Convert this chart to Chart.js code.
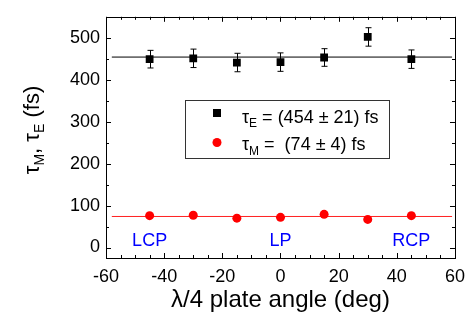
<!DOCTYPE html>
<html>
<head>
<meta charset="utf-8">
<script src="https://cdn.jsdelivr.net/npm/chart.js@4.4.1/dist/chart.umd.min.js"></script>
<style>
  body { margin: 0; background: #fff; }
  #wrap { width: 473px; height: 326px; }
</style>
</head>
<body>
<div id="wrap"><canvas id="chart" width="473" height="326"></canvas></div>
<script>
// data
const angles = [-45, -30, -15, 0, 15, 30, 45];
const tauE = [449, 451, 441, 442, 453, 502, 449];
const errE = [21, 22, 22, 22, 21, 22, 22];
const tauM = [76, 77, 70, 72, 79, 67, 76];
const fitE = 454;
const fitM = 74;
const fitRange = [-58, 59];
const xTicks = [-60, -40, -20, 0, 20, 40, 60];
const yTicks = [0, 100, 200, 300, 400, 500];
const polLabels = ["LCP", "LP", "RCP"];
const polAngles = [-45, 0, 45];

const FONT = "'Liberation Sans', Arial, sans-serif";

// frame, inward ticks, error bars, titles, legend
const decor = {
    id: "decor",
    afterDatasetsDraw(chart) {
        const { ctx, chartArea: a, scales: { x, y } } = chart;
        ctx.save();

        // error bars
        ctx.strokeStyle = "#000";
        ctx.lineWidth = 1;
        angles.forEach((ang, i) => {
            const px = Math.round(x.getPixelForValue(ang)) + 0.5;
            const top = y.getPixelForValue(tauE[i] + errE[i]);
            const bot = y.getPixelForValue(tauE[i] - errE[i]);
            ctx.beginPath();
            ctx.moveTo(px, top); ctx.lineTo(px, bot);
            ctx.moveTo(px - 3, top); ctx.lineTo(px + 3, top);
            ctx.moveTo(px - 3, bot); ctx.lineTo(px + 3, bot);
            ctx.stroke();
        });

        // frame
        ctx.strokeRect(Math.round(a.left) + 0.5, Math.round(a.top) + 0.5,
            Math.round(a.right - a.left), Math.round(a.bottom - a.top));

        // ticks pointing inward
        ctx.beginPath();
        for (let v = -60; v <= 60; v += 5) {
            const px = Math.round(x.getPixelForValue(v)) + 0.5;
            const len = v % 20 === 0 ? 5 : 3;
            ctx.moveTo(px, a.bottom); ctx.lineTo(px, a.bottom - len);
            ctx.moveTo(px, a.top); ctx.lineTo(px, a.top + len);
        }
        for (let v = 0; v <= 550; v += 50) {
            const py = Math.round(y.getPixelForValue(v)) + 0.5;
            const len = v % 100 === 0 ? 5 : 3;
            ctx.moveTo(a.left, py); ctx.lineTo(a.left + len, py);
            ctx.moveTo(a.right, py); ctx.lineTo(a.right - len, py);
        }
        ctx.stroke();

        // LCP / LP / RCP
        ctx.fillStyle = "#0000ff";
        ctx.font = "18px " + FONT;
        ctx.textAlign = "center";
        ctx.textBaseline = "alphabetic";
        polLabels.forEach((t, i) => {
            ctx.fillText(t, x.getPixelForValue(polAngles[i]), y.getPixelForValue(3));
        });

        // x title
        ctx.fillStyle = "#000";
        ctx.font = "24px " + FONT;
        ctx.fillText("\u03bb/4 plate angle (deg)", (a.left + a.right) / 2, 307);

        // y title with subscripts
        ctx.save();
        ctx.translate(39, 130);
        ctx.rotate(-Math.PI / 2);
        drawRich(ctx, [["\u03c4", 0, 22], ["M", 5, 14], [", ", 0, 22], ["\u03c4", 0, 22], ["E", 5, 14], [" (fs)", 0, 22]], 0, 0, "center");
        ctx.restore();

        // legend
        ctx.strokeStyle = "#333";
        ctx.strokeRect(185.5, 100.5, 204, 58);
        ctx.fillStyle = "#000";
        ctx.fillRect(213, 109, 8, 8);
        ctx.fillStyle = "#ff0000";
        ctx.beginPath();
        ctx.arc(217, 142.5, 4.5, 0, Math.PI * 2);
        ctx.fill();
        ctx.fillStyle = "#000";
        drawRich(ctx, [["\u03c4", 0, 18], ["E", 4, 12], [" = (" + fitE + " \u00b1 21) fs", 0, 18]], 242, 123, "left");
        drawRich(ctx, [["\u03c4", 0, 18], ["M", 5, 12], [" =  (" + fitM + " \u00b1 4) fs", 0, 18]], 242, 150, "left");

        ctx.restore();
    }
};

function drawRich(ctx, parts, x0, y0, align) {
    ctx.textAlign = "left";
    ctx.textBaseline = "alphabetic";
    let total = 0;
    parts.forEach(p => {
        ctx.font = p[2] + "px " + FONT;
        total += ctx.measureText(p[0]).width;
    });
    let cx = align === "center" ? x0 - total / 2 : x0;
    parts.forEach(p => {
        ctx.font = p[2] + "px " + FONT;
        ctx.fillText(p[0], cx, y0 + p[1]);
        cx += ctx.measureText(p[0]).width;
    });
}

const ctx = document.getElementById("chart").getContext("2d");
new Chart(ctx, {
    type: "scatter",
    data: {
        datasets: [
            {
                label: "tauE",
                data: angles.map((a, i) => ({ x: a, y: tauE[i] })),
                pointStyle: "rect",
                pointRadius: 5.5,
                backgroundColor: "#000",
                borderColor: "#000",
                borderWidth: 0
            },
            {
                label: "tauM",
                data: angles.map((a, i) => ({ x: a, y: tauM[i] })),
                pointStyle: "circle",
                pointRadius: 4.5,
                backgroundColor: "#ff0000",
                borderColor: "#ff0000",
                borderWidth: 0
            },
            {
                label: "fitE",
                data: fitRange.map(v => ({ x: v, y: fitE })),
                showLine: true,
                pointRadius: 0,
                borderColor: "#000",
                borderWidth: 1
            },
            {
                label: "fitM",
                data: fitRange.map(v => ({ x: v, y: fitM })),
                showLine: true,
                pointRadius: 0,
                borderColor: "#ff2020",
                borderWidth: 1
            }
        ]
    },
    options: {
        responsive: false,
        animation: false,
        layout: { padding: { top: 5, right: 18, left: 0, bottom: 0 } },
        plugins: {
            legend: { display: false },
            tooltip: { enabled: false }
        },
        scales: {
            x: {
                type: "linear",
                min: -60,
                max: 60,
                afterBuildTicks: (s) => { s.ticks = xTicks.map(v => ({ value: v })); },
                afterFit: (s) => { s.height = 68; },
                grid: { display: false, drawTicks: false },
                border: { display: false },
                ticks: { color: "#000", font: { family: FONT, size: 18 }, padding: 8, maxRotation: 0 }
            },
            y: {
                min: -25,
                max: 550,
                afterBuildTicks: (s) => { s.ticks = yTicks.map(v => ({ value: v })); },
                afterFit: (s) => { s.width = 106; },
                grid: { display: false, drawTicks: false },
                border: { display: false },
                ticks: { color: "#000", font: { family: FONT, size: 18 }, padding: 6 }
            }
        }
    },
    plugins: [decor]
});
</script>
</body>
</html>
